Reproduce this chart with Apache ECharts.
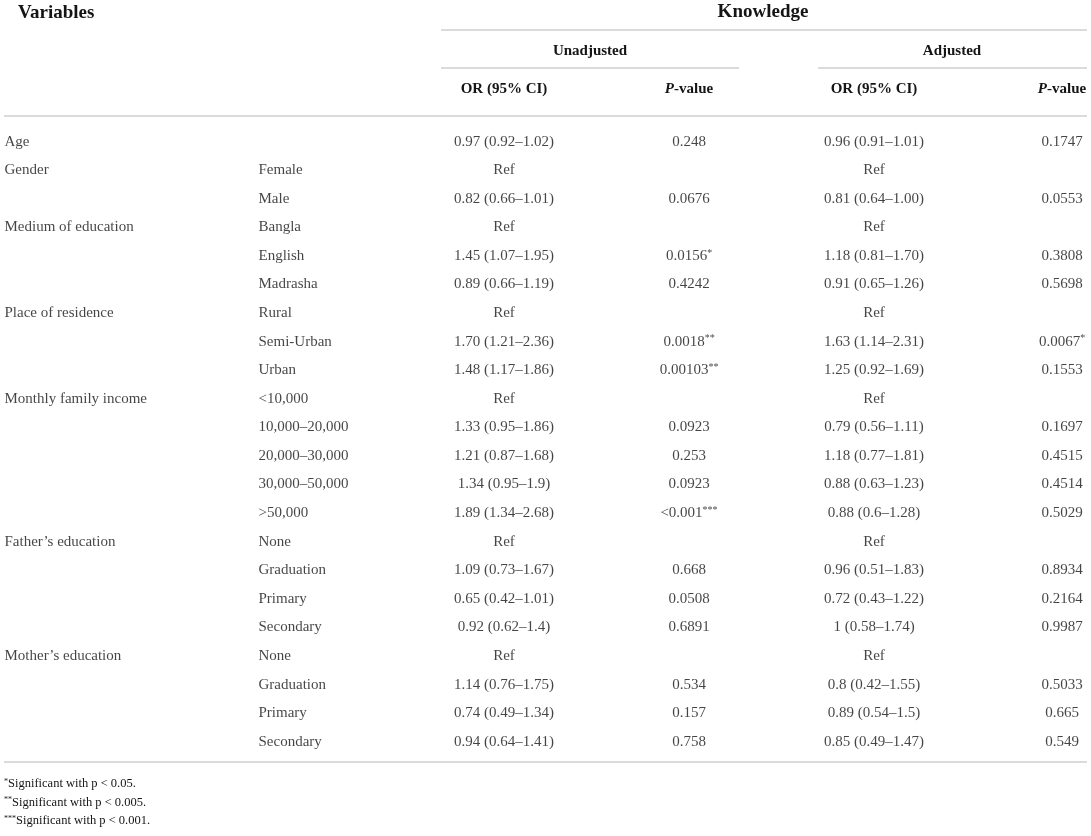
<!DOCTYPE html>
<html lang="en">
<head>
  <meta charset="UTF-8">
  <title>Knowledge table</title>
  <script src="https://cdn.jsdelivr.net/npm/echarts@6/dist/echarts.min.js"></script>
</head>
<style>
  * { margin: 0px; padding: 0px; }
  body { background: #fff; }
  #main { width: 1091px; height: 836px; }
</style>
<body>
  <div id="main"></div>
</body>
<script>
  // table content
  var variables = ['Age', 'Gender', '', 'Medium of education', '', '', 'Place of residence', '', '',
    'Monthly family income', '', '', '', '', 'Father\u2019s education', '', '', '',
    'Mother\u2019s education', '', '', ''];
  var levels = ['', 'Female', 'Male', 'Bangla', 'English', 'Madrasha', 'Rural', 'Semi-Urban', 'Urban',
    '<10,000', '10,000\u201320,000', '20,000\u201330,000', '30,000\u201350,000', '>50,000',
    'None', 'Graduation', 'Primary', 'Secondary', 'None', 'Graduation', 'Primary', 'Secondary'];
  var orUnadjusted = ['0.97 (0.92\u20131.02)', 'Ref', '0.82 (0.66\u20131.01)', 'Ref', '1.45 (1.07\u20131.95)',
    '0.89 (0.66\u20131.19)', 'Ref', '1.70 (1.21\u20132.36)', '1.48 (1.17\u20131.86)', 'Ref',
    '1.33 (0.95\u20131.86)', '1.21 (0.87\u20131.68)', '1.34 (0.95\u20131.9)', '1.89 (1.34\u20132.68)', 'Ref',
    '1.09 (0.73\u20131.67)', '0.65 (0.42\u20131.01)', '0.92 (0.62\u20131.4)', 'Ref',
    '1.14 (0.76\u20131.75)', '0.74 (0.49\u20131.34)', '0.94 (0.64\u20131.41)'];
  var pUnadjusted = ['0.248', '', '0.0676', '', '0.0156*', '0.4242', '', '0.0018**', '0.00103**', '',
    '0.0923', '0.253', '0.0923', '<0.001***', '', '0.668', '0.0508', '0.6891', '', '0.534', '0.157', '0.758'];
  var orAdjusted = ['0.96 (0.91\u20131.01)', 'Ref', '0.81 (0.64\u20131.00)', 'Ref', '1.18 (0.81\u20131.70)',
    '0.91 (0.65\u20131.26)', 'Ref', '1.63 (1.14\u20132.31)', '1.25 (0.92\u20131.69)', 'Ref',
    '0.79 (0.56\u20131.11)', '1.18 (0.77\u20131.81)', '0.88 (0.63\u20131.23)', '0.88 (0.6\u20131.28)', 'Ref',
    '0.96 (0.51\u20131.83)', '0.72 (0.43\u20131.22)', '1 (0.58\u20131.74)', 'Ref',
    '0.8 (0.42\u20131.55)', '0.89 (0.54\u20131.5)', '0.85 (0.49\u20131.47)'];
  var pAdjusted = ['0.1747', '', '0.0553', '', '0.3808', '0.5698', '', '0.0067*', '0.1553', '',
    '0.1697', '0.4515', '0.4514', '0.5029', '', '0.8934', '0.2164', '0.9987', '', '0.5033', '0.665', '0.549'];
  var footnotes = ['*Significant with p < 0.05.', '**Significant with p < 0.005.', '***Significant with p < 0.001.'];

  var ink = '#161414';
  var rule = '#cfcfcf';
  var serif = '"Liberation Serif", "DejaVu Serif", serif';

  // split "0.0156*" into value + superscript stars
  function sup(s) {
    var m = s.match(/^([^*]*)(\*+)$/);
    if (!m) return '{n|' + s + '}';
    return '{n|' + m[1] + '}{s|' + m[2] + '}';
  }
  var rich = {
    n: { fontFamily: serif, fontSize: 15, color: ink },
    s: { fontFamily: serif, fontSize: 10, color: ink, verticalAlign: 'top', padding: [0, 0, 6, 0] },
    b: { fontFamily: serif, fontSize: 15, fontWeight: 'bold', color: ink },
    bi: { fontFamily: serif, fontSize: 15, fontWeight: 'bold', fontStyle: 'italic', color: ink },
    f: { fontFamily: serif, fontSize: 12.5, color: ink },
    fs: { fontFamily: serif, fontSize: 8, color: ink, verticalAlign: 'top', padding: [0, 0, 5, 0] }
  };

  var rows = variables.map(function (v, i) { return i; });

  function column(name, values, x, align) {
    return {
      name: name,
      type: 'scatter',
      symbolSize: 1,
      itemStyle: { color: 'transparent' },
      silent: true,
      data: values.map(function (t, i) { return { value: [x, i], text: t }; }),
      label: {
        show: true,
        position: align === 'left' ? 'right' : 'inside',
        distance: 0,
        align: align,
        verticalAlign: 'middle',
        formatter: function (p) { return p.data.text ? sup(p.data.text) : ''; },
        rich: rich
      }
    };
  }

  var chart = echarts.init(document.getElementById('main'), null, { renderer: 'canvas' });

  function hline(x1, x2, y) {
    return { type: 'line', shape: { x1: x1, y1: y, x2: x2, y2: y }, style: { stroke: rule, lineWidth: 1.5 }, silent: true };
  }
  function htext(t, x, y, align) {
    return { type: 'text', x: x, y: y, silent: true,
      style: { text: t, rich: rich, align: align, verticalAlign: 'middle', fill: ink } };
  }

  var graphics = [
    { type: 'text', x: 18, y: 13, style: { text: 'Variables', font: 'bold 19px ' + serif, fill: ink, verticalAlign: 'middle' } },
    { type: 'text', x: 763, y: 12, style: { text: 'Knowledge', font: 'bold 19px ' + serif, fill: ink, align: 'center', verticalAlign: 'middle' } },
    hline(441, 1087, 30),
    htext('{b|Unadjusted}', 590, 51, 'center'),
    htext('{b|Adjusted}', 952, 51, 'center'),
    hline(441, 739, 68),
    hline(818, 1087, 68),
    htext('{b|OR (95% CI)}', 504, 89, 'center'),
    htext('{bi|P}{b|-value}', 689, 89, 'center'),
    htext('{b|OR (95% CI)}', 874, 89, 'center'),
    htext('{bi|P}{b|-value}', 1062, 89, 'center'),
    hline(4, 1087, 116),
    hline(4, 1087, 762)
  ];
  footnotes.forEach(function (t, i) {
    var m = t.match(/^(\*+)(.*)$/);
    graphics.push(htext('{fs|' + m[1] + '}{f|' + m[2] + '}', 4, 784 + i * 18.5, 'left'));
  });

  chart.setOption({
    animation: false,
    backgroundColor: '#fff',
    grid: { left: 0, right: 0, top: 127.4, height: 628.6 },
    xAxis: { type: 'value', min: 0, max: 1091, show: false },
    yAxis: { type: 'category', data: rows, inverse: true, show: false },
    graphic: graphics,
    series: [
      column('Variables', variables, 4, 'left'),
      column('Level', levels, 258, 'left'),
      column('OR unadjusted', orUnadjusted, 504, 'center'),
      column('P unadjusted', pUnadjusted, 689, 'center'),
      column('OR adjusted', orAdjusted, 874, 'center'),
      column('P adjusted', pAdjusted, 1062, 'center')
    ]
  });
</script>
</html>
